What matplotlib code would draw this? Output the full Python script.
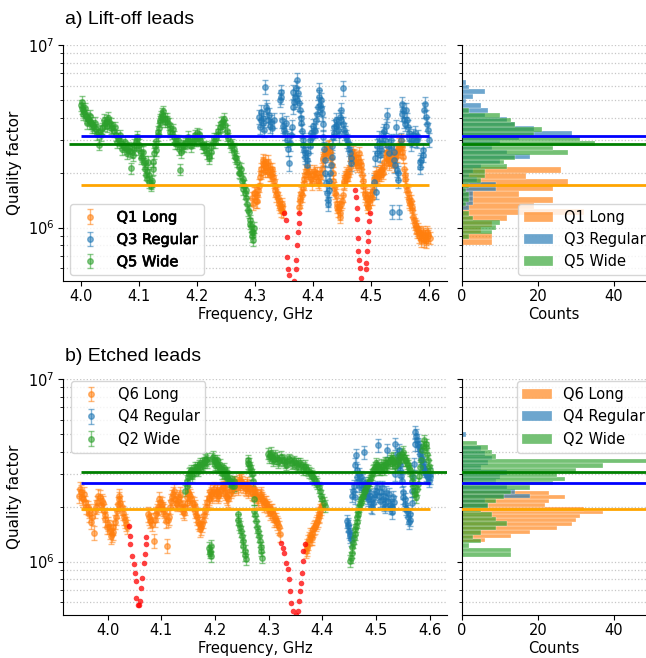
import matplotlib.pyplot as plt
import matplotlib.patheffects as pe
import numpy as np

plt.rcParams['font.family'] = ['DejaVu Sans']

# ---------------- a) Lift-off leads ----------------
# (frequency GHz, quality factor in units of 1e6)
q1_pts = [(4.295,1.45),(4.297,1.35),(4.299,1.55),(4.301,1.40),(4.303,1.50),(4.305,1.60),(4.307,1.70),
          (4.309,1.90),(4.311,2.10),(4.313,2.25),(4.315,2.20),(4.317,2.30),(4.319,2.15),(4.321,2.05),
          (4.323,2.20),(4.325,2.10),(4.327,1.95),(4.329,2.00),(4.331,1.90),(4.333,1.80),(4.335,1.60),
          (4.337,1.50),(4.339,1.45),(4.341,1.35),(4.343,1.30),(4.345,1.25),(4.347,1.35),(4.349,1.22),
          (4.376,1.30),(4.378,1.45),(4.380,1.55),(4.382,1.65),(4.384,1.85),(4.386,1.95),(4.388,2.05),
          (4.391,2.00),(4.394,1.90),(4.397,1.85),(4.400,1.95),(4.403,2.00),(4.406,1.90),(4.409,1.80),
          (4.412,1.90),(4.415,2.10),(4.417,2.35),(4.419,2.50),(4.421,2.60),(4.423,2.70),(4.425,2.65),
          (4.427,2.80),(4.429,2.60),(4.431,2.40),(4.433,2.20),(4.435,1.80),(4.437,1.65),(4.439,1.50),
          (4.441,1.35),(4.443,1.25),(4.445,1.30),(4.447,1.20),(4.449,1.35),(4.451,1.50),(4.453,1.75),
          (4.455,1.90),(4.457,2.00),(4.459,1.85),(4.461,1.95),(4.463,2.15),(4.465,2.35),(4.467,2.50),
          (4.469,2.60),(4.471,2.45),(4.473,2.30),(4.475,2.20),(4.477,2.40),(4.479,2.55),(4.481,2.30),
          (4.483,2.10),(4.485,1.95),(4.487,1.70),(4.489,1.55),(4.491,1.45),(4.493,1.35),(4.495,1.30),
          (4.497,1.40),(4.499,1.50),(4.501,1.45),(4.503,1.60),(4.505,1.75),(4.507,1.90),(4.509,2.00),
          (4.511,1.85),(4.513,1.95),(4.515,2.05),(4.517,1.95),(4.519,2.10),(4.521,2.00),(4.523,2.30),
          (4.525,2.45),(4.527,2.60),(4.529,2.40),(4.531,2.25),(4.533,2.40),(4.535,2.55),(4.537,2.35),
          (4.539,2.20),(4.541,2.40),(4.543,2.60),(4.545,2.50),(4.547,2.70),(4.549,2.85),(4.551,3.00),
          (4.553,2.75),(4.555,2.45),(4.557,2.10),(4.559,1.85),(4.561,1.70),(4.563,1.55),(4.565,1.45),
          (4.567,1.35),(4.569,1.40),(4.571,1.25),(4.573,1.15),(4.575,1.05),(4.577,1.00),(4.579,0.95),
          (4.581,0.98),(4.583,0.90),(4.585,0.93),(4.587,0.88),(4.589,0.92),(4.591,0.85),(4.593,0.90),
          (4.595,0.87),(4.597,0.95),(4.599,0.92),(4.601,0.88),
          (4.300,1.55),(4.304,1.40),(4.310,2.00),(4.314,2.35),(4.318,2.05),(4.322,2.30),(4.326,1.95),
          (4.330,2.10),(4.334,1.70),(4.338,1.55),(4.342,1.40),(4.346,1.30),(4.377,1.40),(4.381,1.50),
          (4.385,1.75),(4.389,2.15),(4.393,2.05),(4.398,1.75),(4.402,2.05),(4.407,2.00),(4.411,1.75),
          (4.414,2.00),(4.418,2.40),(4.422,2.55),(4.426,2.75),(4.430,2.50),(4.434,2.00),(4.438,1.55),
          (4.442,1.30),(4.446,1.15),(4.450,1.40),(4.454,1.80),(4.458,1.95),(4.462,2.05),(4.466,2.45),
          (4.470,2.50),(4.474,2.25),(4.478,2.30),(4.482,2.20),(4.486,1.80),(4.490,1.50),(4.494,1.30),
          (4.498,1.45),(4.502,1.55),(4.506,1.85),(4.510,1.90),(4.514,2.00),(4.518,2.05),(4.522,2.15),
          (4.526,2.55),(4.530,2.35),(4.534,2.30),(4.538,2.45),(4.542,2.50),(4.546,2.65),(4.550,2.75),
          (4.554,2.60),(4.558,1.95),(4.562,1.60),(4.566,1.40),(4.570,1.30),(4.574,1.10),(4.578,1.02),
          (4.582,0.95),(4.586,0.85),(4.590,0.95),(4.594,0.84),(4.598,0.90)]

q3_pts = [(4.307,4.05),(4.309,3.57),(4.311,4.31),(4.313,3.73),(4.316,3.43),(4.318,5.90),(4.321,4.40),
          (4.324,4.14),(4.327,3.80),(4.330,3.50),(4.333,3.88),(4.343,5.00),(4.344,5.55),(4.346,3.88),
          (4.350,3.43),(4.353,3.73),(4.356,3.02),(4.359,2.25),(4.361,2.90),(4.364,3.57),(4.366,5.55),
          (4.369,5.20),(4.372,6.43),(4.374,5.43),(4.378,4.41),(4.380,3.73),(4.382,3.02),(4.384,2.66),
          (4.387,2.45),(4.389,2.20),(4.392,2.55),(4.395,3.02),(4.398,3.15),(4.402,3.43),(4.405,3.88),
          (4.409,4.60),(4.411,5.68),(4.413,5.00),(4.416,4.23),(4.418,3.15),(4.420,2.35),(4.422,1.75),
          (4.425,1.42),(4.427,1.61),(4.429,1.98),(4.432,2.45),(4.434,3.15),(4.437,3.57),(4.440,3.88),
          (4.443,3.43),(4.446,4.05),(4.449,4.41),(4.451,5.80),(4.454,3.43),(4.457,3.15),(4.460,2.90),
          (4.463,2.55),(4.466,2.25),(4.505,1.78),(4.508,1.57),(4.511,2.55),(4.514,2.90),(4.517,2.66),
          (4.520,3.28),(4.524,3.02),(4.528,4.14),(4.531,2.55),(4.535,2.78),(4.537,1.22),(4.540,2.35),
          (4.543,3.57),(4.545,2.07),(4.547,1.82),(4.548,1.22),(4.551,3.02),(4.554,4.78),(4.557,3.88),
          (4.560,4.41),(4.563,3.57),(4.566,3.28),(4.570,3.02),(4.573,3.20),(4.577,3.02),(4.581,3.15),
          (4.584,2.16),(4.587,2.35),(4.590,2.66),(4.593,4.78),(4.595,4.05),(4.598,3.43),(4.600,3.02),
          (4.310,3.90),(4.314,4.00),(4.319,4.60),(4.322,3.90),(4.326,3.60),(4.345,5.20),(4.348,3.60),
          (4.352,3.30),(4.357,2.70),(4.362,3.20),(4.365,4.60),(4.367,4.90),(4.370,5.80),(4.373,5.00),
          (4.376,4.80),(4.379,4.00),(4.381,3.40),(4.383,2.85),(4.386,2.55),(4.390,2.35),(4.394,2.80),
          (4.397,3.30),(4.400,3.60),(4.404,3.40),(4.407,4.20),(4.410,5.20),(4.412,4.70),(4.414,4.50),
          (4.417,3.70),(4.419,2.70),(4.421,2.00),(4.424,1.55),(4.426,1.35),(4.428,1.80),(4.431,2.20),
          (4.433,2.80),(4.436,3.30),(4.439,3.60),(4.442,3.70),(4.445,3.20),(4.448,3.90),(4.452,3.70),
          (4.456,3.30),(4.459,3.00),(4.462,2.70),(4.465,2.40),(4.507,2.40),(4.510,2.80),(4.513,3.10),
          (4.516,2.50),(4.519,2.90),(4.522,3.40),(4.526,3.60),(4.530,2.80),(4.534,3.00),(4.539,2.60),
          (4.542,2.20),(4.546,2.00),(4.553,4.20),(4.556,4.40),(4.559,3.70),(4.562,3.90),(4.566,3.10),
          (4.569,2.90),(4.575,3.30),(4.580,3.00),(4.585,2.30),(4.589,2.50),(4.592,4.40),(4.597,3.70)]

q5_pts = [(4.000,4.70),(4.002,4.50),(4.004,4.40),(4.006,4.30),(4.008,4.10),(4.010,4.00),(4.012,3.95),
          (4.014,3.90),(4.016,3.85),(4.018,3.75),(4.020,3.65),(4.023,3.55),(4.026,3.45),(4.029,3.35),
          (4.031,2.85),(4.033,3.40),(4.036,3.50),(4.039,3.62),(4.042,3.75),(4.045,3.85),(4.048,3.78),
          (4.051,3.70),(4.054,3.55),(4.057,3.38),(4.060,3.20),(4.063,3.10),(4.066,3.00),(4.069,2.92),
          (4.072,2.85),(4.075,2.78),(4.078,2.72),(4.081,2.66),(4.084,2.62),(4.086,2.12),(4.088,2.60),
          (4.091,2.70),(4.094,2.95),(4.097,3.05),(4.100,2.85),(4.103,2.60),(4.106,2.45),(4.108,2.25),
          (4.110,2.10),(4.112,1.95),(4.114,2.05),(4.116,2.30),(4.118,1.78),(4.120,1.75),(4.122,1.80),
          (4.124,2.30),(4.126,2.55),(4.128,2.80),(4.130,2.98),(4.132,3.20),(4.134,3.50),(4.136,3.80),
          (4.138,4.05),(4.140,4.20),(4.142,4.10),(4.145,3.95),(4.148,3.80),(4.151,3.70),(4.154,3.50),
          (4.157,3.30),(4.160,3.15),(4.163,3.00),(4.166,2.88),(4.169,2.70),(4.171,2.08),(4.173,2.75),
          (4.176,2.82),(4.179,2.90),(4.182,2.95),(4.185,3.02),(4.188,2.98),(4.191,2.95),(4.194,3.00),
          (4.197,3.10),(4.200,3.28),(4.203,3.10),(4.206,3.00),(4.209,2.88),(4.212,2.75),(4.215,2.68),
          (4.218,2.55),(4.221,2.48),(4.224,2.75),(4.227,2.95),(4.230,3.08),(4.233,3.10),(4.236,3.25),
          (4.239,3.55),(4.242,3.75),(4.245,3.82),(4.248,3.65),(4.251,3.40),(4.254,3.10),(4.257,2.95),
          (4.260,2.85),(4.263,2.60),(4.266,2.45),(4.269,2.30),(4.272,2.15),(4.275,1.98),(4.277,1.80),
          (4.279,1.85),(4.281,1.70),(4.283,1.55),(4.285,1.45),(4.287,1.35),(4.289,1.22),(4.291,1.10),
          (4.293,1.02),(4.295,0.90),(4.297,0.95),(4.299,1.00),
          (4.001,4.90),(4.003,4.20),(4.007,4.50),(4.011,3.75),(4.015,4.10),(4.019,3.55),(4.024,3.75),
          (4.027,3.25),(4.034,3.20),(4.040,3.90),(4.044,3.60),(4.047,4.00),(4.052,3.50),(4.058,3.55),
          (4.062,2.95),(4.067,3.20),(4.071,2.70),(4.076,2.95),(4.080,2.55),(4.083,2.75),(4.089,2.50),
          (4.092,2.85),(4.096,3.15),(4.099,2.70),(4.104,2.40),(4.107,2.60),(4.111,2.30),(4.113,1.85),
          (4.117,1.95),(4.121,1.70),(4.125,2.10),(4.129,2.65),(4.133,3.35),(4.137,3.90),(4.141,4.35),
          (4.144,3.80),(4.149,3.95),(4.153,3.35),(4.158,3.45),(4.162,2.90),(4.167,3.00),(4.172,2.60),
          (4.178,2.80),(4.184,3.15),(4.190,2.80),(4.196,3.20),(4.199,3.00),(4.204,3.25),(4.210,2.75),
          (4.216,2.80),(4.220,2.40),(4.225,2.60),(4.231,2.95),(4.237,3.40),(4.243,3.60),(4.247,3.95),
          (4.252,3.20),(4.258,2.80),(4.264,2.70),(4.268,2.40),(4.273,2.00),(4.276,2.10),(4.280,1.62),
          (4.284,1.60),(4.288,1.25),(4.292,1.05),(4.294,0.95),(4.296,0.85)]

# points inside the dips, shown as red dots
red_a_pts = [(4.350,1.20),(4.353,1.10),(4.355,0.89),(4.356,0.69),(4.357,0.59),(4.359,0.55),(4.367,0.51),
             (4.370,0.59),(4.371,0.665),(4.373,0.80),(4.374,0.95),(4.375,1.06),(4.376,1.20),
             (4.4724,1.61),(4.4736,1.48),(4.4753,1.28),(4.4764,1.12),(4.4776,0.875),(4.4782,0.74),
             (4.4793,0.665),(4.4805,0.60),(4.4822,0.53),(4.4908,0.59),(4.4920,0.64),(4.4931,0.74),
             (4.4943,0.84),(4.4954,0.95),(4.4966,1.08),(4.4983,1.20)]

# median Q lines (units of 1e6)
q1_med, q3_med, q5_med = 1.71, 3.18, 2.87

# histograms: log10(Q) range and counts per bin (low Q -> high Q)
q1_hist = (5.905, 6.334, [8, 8, 5, 8, 12, 32, 19, 24, 15, 24, 28, 17, 26])
q3_hist = (6.097, 6.808, [2, 3, 3, 3, 9, 9, 4, 2, 3, 5, 10, 18, 12, 8, 10, 15, 29, 19, 14, 12,
                          6, 7, 5, 1, 3, 6, 2, 1])
q5_hist = (5.938, 6.653, [2, 8, 9, 10, 3, 2, 0, 1, 2, 2, 1, 2, 5, 6, 6, 12, 11, 14, 28, 24,
                          35, 31, 19, 21, 14, 13, 10, 2])

# ---------------- b) Etched leads ----------------
q6_pts = [(3.946,2.30),(3.950,2.40),(3.954,2.20),(3.958,2.11),(3.963,1.98),(3.966,1.82),(3.971,1.75),
          (3.974,1.44),(3.977,1.90),(3.981,2.11),(3.985,2.25),(3.989,2.16),(3.993,1.90),(3.996,1.71),
          (4.000,1.61),(4.004,1.47),(4.008,1.41),(4.011,1.54),(4.015,1.75),(4.019,2.07),(4.022,2.20),
          (4.026,1.98),(4.030,1.75),(4.034,1.61),(4.075,1.82),(4.079,1.67),(4.082,1.61),(4.086,1.30),
          (4.090,1.82),(4.093,1.98),(4.097,2.11),(4.101,2.07),(4.105,1.90),(4.108,1.67),(4.111,1.22),
          (4.115,1.75),(4.118,2.16),(4.122,2.35),(4.126,2.20),(4.130,2.07),(4.133,2.25),(4.137,2.07),
          (4.141,1.90),(4.145,1.98),(4.148,2.25),(4.152,2.35),(4.156,2.20),(4.160,2.07),(4.163,1.90),
          (4.167,1.75),(4.171,1.61),(4.174,1.54),(4.178,1.67),(4.182,1.90),(4.186,2.11),(4.189,2.25),
          (4.193,2.35),(4.197,2.40),(4.201,2.35),(4.204,2.45),(4.208,2.35),(4.212,2.50),(4.216,2.61),
          (4.219,2.40),(4.223,2.25),(4.227,2.35),(4.231,2.50),(4.234,2.61),(4.238,2.67),(4.242,2.56),
          (4.245,2.72),(4.249,2.78),(4.253,2.61),(4.257,2.50),(4.260,2.67),(4.264,2.56),(4.268,2.40),
          (4.272,2.50),(4.275,2.35),(4.279,2.25),(4.283,2.30),(4.286,2.25),(4.290,2.16),(4.293,2.11),
          (4.297,2.02),(4.301,1.98),(4.304,1.90),(4.308,1.82),(4.312,1.75),(4.315,1.64),(4.319,1.54),
          (4.321,1.41),(4.369,1.15),(4.372,1.22),(4.375,1.33),(4.378,1.36),(4.381,1.41),(4.385,1.54),
          (4.388,1.61),(4.391,1.71),(4.394,1.82),(4.397,1.98),
          (3.948,2.50),(3.952,2.25),(3.956,2.35),(3.960,2.00),(3.965,1.90),(3.969,1.65),(3.979,2.00),
          (3.983,2.30),(3.987,2.05),(3.991,2.10),(3.995,1.80),(3.998,1.55),(4.002,1.55),(4.006,1.38),
          (4.010,1.45),(4.013,1.65),(4.017,1.90),(4.021,2.30),(4.024,2.10),(4.028,1.85),(4.032,1.68),
          (4.036,1.55),(4.077,1.75),(4.081,1.70),(4.088,1.70),(4.092,1.90),(4.095,2.20),(4.099,2.00),
          (4.103,1.95),(4.107,1.80),(4.113,1.70),(4.117,2.00),(4.120,2.25),(4.124,2.45),(4.128,2.10),
          (4.132,2.15),(4.135,2.35),(4.139,2.00),(4.143,1.85),(4.147,2.10),(4.150,2.40),(4.154,2.30),
          (4.158,2.10),(4.162,2.00),(4.165,1.80),(4.169,1.65),(4.173,1.50),(4.176,1.60),(4.180,1.80),
          (4.184,2.00),(4.188,2.20),(4.191,2.45),(4.195,2.30),(4.199,2.50),(4.203,2.40),(4.206,2.30),
          (4.210,2.45),(4.214,2.55),(4.218,2.50),(4.221,2.30),(4.225,2.20),(4.229,2.45),(4.233,2.55),
          (4.236,2.70),(4.240,2.60),(4.244,2.80),(4.247,2.65),(4.251,2.70),(4.255,2.55),(4.259,2.60),
          (4.262,2.45),(4.266,2.50),(4.270,2.35),(4.274,2.45),(4.277,2.30),(4.281,2.20),(4.285,2.35),
          (4.288,2.20),(4.292,2.05),(4.295,2.10),(4.299,1.95),(4.303,1.85),(4.306,1.90),(4.310,1.70),
          (4.314,1.70),(4.317,1.58),(4.371,1.18),(4.374,1.28),(4.377,1.40),(4.380,1.35),(4.383,1.50),
          (4.387,1.55),(4.390,1.65),(4.393,1.78),(4.396,1.90),(4.399,2.05)]

q4_pts = [(4.446,1.67),(4.448,1.57),(4.450,1.47),(4.452,1.38),(4.454,1.33),(4.457,2.45),(4.460,2.25),
          (4.462,3.82),(4.464,3.16),(4.466,2.78),(4.469,3.03),(4.471,2.67),(4.474,2.78),(4.477,3.98),
          (4.480,2.56),(4.483,2.25),(4.486,2.40),(4.490,2.11),(4.493,1.98),(4.496,2.25),(4.499,2.45),
          (4.503,4.33),(4.507,2.16),(4.511,2.56),(4.514,2.07),(4.517,2.25),(4.520,4.06),(4.524,2.35),
          (4.527,1.98),(4.530,1.86),(4.533,2.11),(4.536,4.42),(4.539,3.90),(4.542,4.06),(4.545,3.16),
          (4.548,2.78),(4.551,2.25),(4.554,2.07),(4.557,1.90),(4.561,1.64),(4.564,1.82),(4.567,2.45),
          (4.570,3.43),(4.573,5.12),(4.576,4.61),(4.579,4.24),(4.582,3.90),(4.585,3.58),(4.588,3.29),
          (4.591,3.16),(4.594,2.96),(4.598,2.78),(4.601,3.03),
          (4.447,1.60),(4.451,1.42),(4.455,2.30),(4.458,2.60),(4.461,3.40),(4.465,2.90),(4.468,2.60),
          (4.472,2.90),(4.476,2.50),(4.479,2.70),(4.482,2.40),(4.485,2.20),(4.488,2.30),(4.491,2.00),
          (4.495,2.10),(4.498,2.35),(4.501,2.55),(4.505,2.30),(4.509,2.40),(4.512,2.20),(4.516,2.00),
          (4.519,2.40),(4.523,2.15),(4.526,2.05),(4.529,2.00),(4.532,2.25),(4.535,3.00),(4.540,3.60),
          (4.544,3.40),(4.547,2.95),(4.550,2.40),(4.553,2.20),(4.556,1.95),(4.559,1.75),(4.563,1.70),
          (4.566,2.10),(4.569,2.90),(4.572,4.40),(4.575,4.90),(4.578,4.40),(4.581,4.10),(4.584,3.70),
          (4.587,3.45),(4.590,3.25),(4.593,3.00),(4.596,2.90),(4.600,2.90)]

q2_pts = [(4.145,2.45),(4.147,2.78),(4.150,2.90),(4.152,3.03),(4.155,3.16),(4.158,3.03),(4.161,3.16),
          (4.164,3.22),(4.167,3.29),(4.170,3.36),(4.173,3.29),(4.176,3.43),(4.179,3.50),(4.183,3.58),
          (4.186,3.66),(4.189,1.19),(4.191,1.12),(4.193,1.07),(4.195,3.66),(4.198,3.58),(4.201,3.50),
          (4.204,3.43),(4.207,3.29),(4.211,3.22),(4.214,3.16),(4.217,3.09),(4.220,3.03),(4.223,2.90),
          (4.226,2.78),(4.229,2.67),(4.232,2.72),(4.236,2.61),(4.242,1.82),(4.245,1.61),(4.248,1.47),
          (4.252,1.30),(4.255,1.15),(4.257,1.03),(4.261,3.58),(4.264,3.43),(4.267,3.16),(4.270,2.78),
          (4.273,1.90),(4.277,1.67),(4.280,1.47),(4.283,1.30),(4.286,1.15),(4.288,1.05),(4.298,3.90),
          (4.302,3.82),(4.306,3.74),(4.310,3.66),(4.315,3.70),(4.320,3.58),(4.325,3.62),(4.330,3.50),
          (4.335,3.55),(4.340,3.58),(4.345,3.50),(4.350,3.46),(4.355,3.43),(4.360,3.36),(4.365,3.29),
          (4.370,3.22),(4.375,3.09),(4.380,2.96),(4.385,2.84),(4.390,2.67),(4.395,2.45),(4.400,2.20),
          (4.405,2.02),(4.452,1.01),(4.455,1.12),(4.457,1.27),(4.460,1.41),(4.462,1.57),(4.465,1.75),
          (4.467,1.90),(4.470,2.07),(4.472,2.20),(4.475,2.30),(4.477,2.40),(4.480,2.50),(4.483,2.61),
          (4.487,2.72),(4.491,2.90),(4.494,3.16),(4.498,3.29),(4.501,3.36),(4.504,3.29),(4.508,3.22),
          (4.512,3.29),(4.515,3.36),(4.519,3.43),(4.523,3.50),(4.527,3.66),(4.530,3.58),(4.534,3.50),
          (4.538,3.43),(4.541,3.58),(4.545,3.74),(4.549,3.90),(4.552,3.74),(4.556,3.58),(4.560,3.36),
          (4.564,3.16),(4.567,2.78),(4.571,2.45),(4.575,2.25),(4.578,2.67),(4.582,3.29),(4.586,4.06),
          (4.590,4.61),(4.593,4.24),(4.597,3.58),(4.601,3.16),
          (4.148,2.60),(4.153,3.10),(4.157,2.95),(4.162,3.30),(4.168,3.15),(4.172,3.45),(4.177,3.35),
          (4.181,3.65),(4.185,3.50),(4.190,1.15),(4.192,1.22),(4.197,3.75),(4.200,3.40),(4.203,3.60),
          (4.206,3.35),(4.209,3.40),(4.213,3.05),(4.216,3.25),(4.219,2.95),(4.222,3.10),(4.225,2.85),
          (4.228,2.75),(4.231,2.60),(4.235,2.75),(4.243,1.70),(4.246,1.55),(4.250,1.38),(4.253,1.22),
          (4.256,1.08),(4.262,3.45),(4.265,3.30),(4.268,3.00),(4.272,2.20),(4.275,1.80),(4.278,1.55),
          (4.282,1.38),(4.285,1.20),(4.300,3.75),(4.304,3.95),(4.308,3.60),(4.312,3.80),(4.318,3.50),
          (4.322,3.75),(4.328,3.60),(4.333,3.40),(4.338,3.65),(4.343,3.45),(4.348,3.55),(4.353,3.35),
          (4.358,3.45),(4.363,3.20),(4.368,3.35),(4.373,3.15),(4.378,3.05),(4.383,2.90),(4.388,2.75),
          (4.393,2.55),(4.398,2.30),(4.403,2.10),(4.454,1.05),(4.456,1.20),(4.459,1.35),(4.461,1.50),
          (4.464,1.65),(4.466,1.82),(4.469,2.00),(4.471,2.12),(4.474,2.25),(4.479,2.45),(4.485,2.65),
          (4.489,2.80),(4.493,3.00),(4.496,3.20),(4.500,3.45),(4.506,3.20),(4.510,3.40),(4.514,3.20),
          (4.517,3.50),(4.521,3.35),(4.525,3.60),(4.529,3.45),(4.532,3.70),(4.536,3.35),(4.540,3.50),
          (4.543,3.85),(4.547,3.60),(4.551,4.00),(4.554,3.60),(4.558,3.45),(4.562,3.25),(4.566,2.95),
          (4.569,2.60),(4.573,2.35),(4.577,2.50),(4.580,2.95),(4.584,3.60),(4.588,4.30),(4.592,4.40),
          (4.595,3.90),(4.599,3.35)]

red_b_pts = [(4.0393,1.57),(4.0411,1.38),(4.0424,1.25),(4.0455,1.07),(4.0486,0.967),(4.0505,0.87),
             (4.0523,0.78),(4.0536,0.634),(4.0567,0.582),(4.0592,0.582),(4.0611,0.607),(4.0629,0.72),
             (4.0648,0.817),(4.0673,0.987),(4.0692,1.10),(4.0710,1.25),(4.0723,1.36),
             (4.3228,1.27),(4.3259,1.19),(4.3290,1.12),(4.3321,0.987),(4.3352,0.908),(4.3370,0.80),
             (4.3395,0.69),(4.3414,0.595),(4.3444,0.535),(4.3475,0.50),(4.3506,0.513),(4.3537,0.535),
             (4.3568,0.607),(4.3580,0.69),(4.3599,0.766),(4.3611,0.87),(4.3630,1.01),(4.3648,1.14),
             (4.3673,1.25)]

q6_med, q4_med, q2_med = 1.94, 2.71, 3.08

q6_hist = (6.110, 6.385, [6, 13, 18, 25, 29, 30, 31, 37, 32, 22, 23, 27, 23])
q4_hist = (6.294, 6.710, [7, 6, 18, 14, 12, 9, 10, 12, 5, 7, 8, 6, 5, 0, 0, 1])
q2_hist = (6.026, 6.661, [13, 13, 2, 5, 3, 5, 9, 12, 9, 8, 5, 7, 9, 11, 13, 18, 24, 27, 25,
                          30, 37, 52, 9, 8, 7, 4])

ORANGE, BLUE, GREEN = '#ff7f0e', '#1f77b4', '#2ca02c'


def draw_series(ax, pts, rel, color, label):
    pts = sorted(pts)
    f = np.array([p[0] for p in pts])
    q = np.array([p[1] for p in pts]) * 1e6
    ax.errorbar(f, q, yerr=rel * q, fmt='o', color=color, ms=4, capsize=2.5,
                elinewidth=1, alpha=0.55, label=label, zorder=2)


def draw_red(ax, pts):
    f = [p[0] for p in pts]
    q = [p[1] * 1e6 for p in pts]
    ax.plot(f, q, 'o', color='red', ms=4, alpha=0.75, mec='none', zorder=2.5)


def draw_hist(ax, hist, color, label):
    lo, hi, counts = hist
    edges = np.logspace(lo, hi, len(counts) + 1)
    ax.barh(edges[:-1], counts, height=np.diff(edges), align='edge', color=color,
            alpha=0.65, edgecolor='white', linewidth=0.3, label=label)


def style_axes(ax):
    ax.set_yscale('log')
    ax.set_ylim(5.1e5, 1e7)
    ax.spines['top'].set_visible(False)
    ax.spines['right'].set_visible(False)
    ax.yaxis.set_minor_formatter(plt.NullFormatter())
    ax.grid(True, which='both', axis='y', linestyle=':', color='0.78', linewidth=0.9)
    ax.set_axisbelow(True)
    ax.tick_params(labelsize=10.5, pad=2.5)


fig = plt.figure(figsize=(6.46, 6.58), dpi=100)
W, H = 646, 658


def px_axes(left, top, right, bottom):
    return fig.add_axes([left / W, 1 - bottom / H, (right - left) / W, (bottom - top) / H])


panels = [
    dict(top=45, bottom=281, xlim=(3.969, 4.631), title='a) Lift-off leads', title_y=19,
         series=[(q1_pts, 0.08, ORANGE, 'Q1 Long'), (q3_pts, 0.09, BLUE, 'Q3 Regular'),
                 (q5_pts, 0.07, GREEN, 'Q5 Wide')],
         red=red_a_pts,
         meds=[(q1_med, 'orange', 4.0, 4.6), (q3_med, 'blue', 4.0, 4.6), (q5_med, 'green', 3.98, 4.6)],
         hists=[q1_hist, q3_hist, q5_hist],
         leg_main=dict(loc='lower left', bbox_to_anchor=(0.018, 0.025)),
         leg_hist=dict(loc='upper left', bbox_to_anchor=(0.304, 0.326)),
         bold_legend=True),
    dict(top=379, bottom=615, xlim=(3.917, 4.632), title='b) Etched leads', title_y=357,
         series=[(q6_pts, 0.09, ORANGE, 'Q6 Long'), (q4_pts, 0.08, BLUE, 'Q4 Regular'),
                 (q2_pts, 0.07, GREEN, 'Q2 Wide')],
         red=red_b_pts,
         meds=[(q6_med, 'orange', 3.95, 4.6), (q4_med, 'blue', 3.95, 4.6), (q2_med, 'green', 3.95, 4.632)],
         hists=[q6_hist, q4_hist, q2_hist],
         leg_main=dict(loc='upper left', bbox_to_anchor=(0.021, 0.99)),
         leg_hist=dict(loc='upper left', bbox_to_anchor=(0.298, 0.99)),
         bold_legend=False),
]

for p in panels:
    ax = px_axes(63, p['top'], 447, p['bottom'])
    axh = px_axes(461.7, p['top'], 646, p['bottom'])
    style_axes(ax)
    style_axes(axh)

    for pts, rel, color, label in p['series']:
        draw_series(ax, pts, rel, color, label)
    draw_red(ax, p['red'])
    for med, color, x0, x1 in p['meds']:
        ax.hlines(med * 1e6, x0, x1, color=color, lw=2, zorder=3)
    ax.set_xlim(*p['xlim'])
    ax.set_xticks([4.0, 4.1, 4.2, 4.3, 4.4, 4.5, 4.6])
    ax.set_xlabel('Frequency, GHz', fontsize=10.5, labelpad=2)
    ax.set_ylabel('Quality factor', fontsize=11, labelpad=4)
    leg = ax.legend(fontsize=10.5, borderaxespad=0, **p['leg_main'])
    if p['bold_legend']:
        for t in leg.get_texts():
            t.set_path_effects([pe.withStroke(linewidth=0.5, foreground='black')])

    colors = [ORANGE, BLUE, GREEN]
    for hist, color, s in zip(p['hists'], colors, p['series']):
        draw_hist(axh, hist, color, s[3])
    for med, color, x0, x1 in p['meds']:
        axh.axhline(med * 1e6, color=color, lw=2, zorder=3)
    axh.set_xlim(0, 48.4)
    axh.set_xticks([0, 20, 40])
    axh.tick_params(labelleft=False)
    axh.set_xlabel('Counts', fontsize=10.5, labelpad=2)
    axh.legend(fontsize=10.5, borderaxespad=0, **p['leg_hist'])

    fig.text(65 / W, 1 - p['title_y'] / H, p['title'], fontsize=14,
             family=['Liberation Sans', 'DejaVu Sans'], va='center', ha='left')

fig.savefig('out.png', dpi=100)
